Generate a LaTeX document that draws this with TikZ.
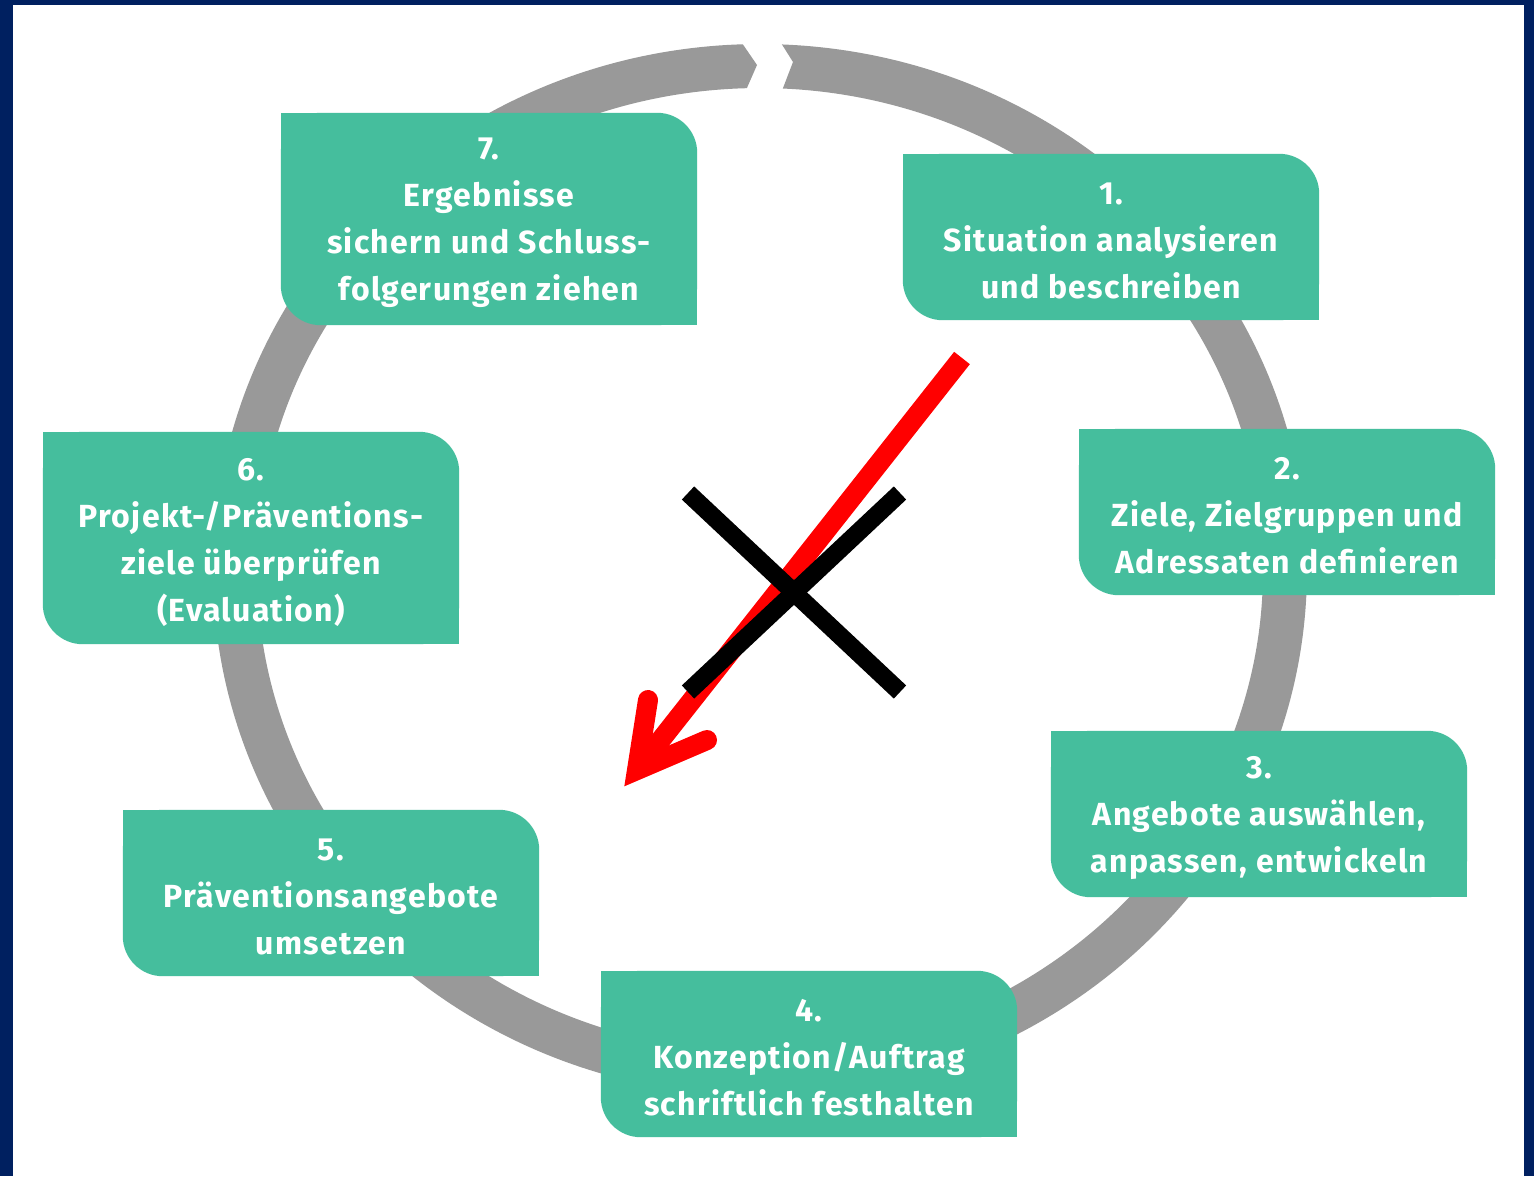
\documentclass[tikz,border=0pt]{standalone}
\usepackage{fontspec}
\setsansfont{Fira Sans}[LetterSpace=4]
\usepackage{tikz}
\usetikzlibrary{backgrounds}
\usetikzlibrary{positioning}
\definecolor{stepgreen}{RGB}{69,190,157}
\definecolor{ringgray}{RGB}{153,153,153}
\definecolor{framenavy}{RGB}{0,32,96}
\definecolor{arrowred}{RGB}{255,0,0}
\tikzset{
    steptext/.style={minimum width=416, minimum height=166, inner sep=0, text=white, align=center,
        font=\sffamily\bfseries\fontsize{32}{47}\selectfont},
    bigline/.style={line width=18},
}

\begin{document}
\begin{tikzpicture}[x=1pt,y=-1pt]
    \useasboundingbox (0,0) rectangle (1534,1176);

    % text sits 4 below the box centre
    \node[steptext, minimum height=212] (s7) at (489,223) {7.\\Ergebnisse\\sichern und Schluss-\\folgerungen ziehen};
    \node[steptext] (s1) at (1111,241) {1.\\Situation analysieren\\und beschreiben};
    \node[steptext] (s2) at (1287,516) {2.\\Ziele, Zielgruppen und\\Adressaten definieren};
    \node[steptext, minimum height=212] (s6) at (251,542) {6.\\Projekt-/Präventions-\\ziele überprüfen\\(Evaluation)};
    \node[steptext] (s3) at (1259,818) {3.\\Angebote auswählen,\\anpassen, entwickeln};
    \node[steptext] (s5) at (331,897) {5.\\Präventionsangebote\\umsetzen};
    \node[steptext] (s4) at (809,1058) {4.\\Konzeption/Auftrag\\schriftlich festhalten};

    \begin{scope}[on background layer]
        \fill[framenavy] (0,0) rectangle (1534,1176);
        \fill[white] (13,5) rectangle (1524,1176);
        % ring, open at the top
        \begin{scope}[shift={(760,570)}]
            \fill[ringgray] (-87.7:547 and 526) arc[start angle=-87.7, end angle=268.2, x radius=547, y radius=526]
                -- (-3,-505) -- (268.5:503 and 482) arc[start angle=268.5, end angle=-87.4, x radius=503, y radius=482]
                -- (33,-508) -- cycle;
        \end{scope}
        % boxes: round top right and bottom left only
        \foreach \n in {s1,s2,s3,s4,s5,s6,s7} {
            \fill[stepgreen, rounded corners=40] ([yshift=4]\n.north west) rectangle ([yshift=4]\n.south east);
            \fill[stepgreen] ([yshift=4]\n.north west) rectangle ++(40,40);
            \fill[stepgreen] ([yshift=4]\n.south east) rectangle ++(-40,-40);
        }
    \end{scope}

    \coordinate (r0) at (962,358);
    \coordinate (r1) at (637,770);
    \coordinate (rb1) at (648,700);
    \coordinate (rb2) at (707,740);
    \draw[arrowred, line width=20] (r0) -- (r1);
    \draw[arrowred, line width=20, line cap=round, miter limit=10] (rb1) -- (r1) -- (rb2);

    \coordinate (x1) at (688,493);
    \coordinate (x2) at (900,692);
    \coordinate (x3) at (688,692);
    \coordinate (x4) at (900,493);
    \draw[bigline] (x1) -- (x2);
    \draw[bigline] (x3) -- (x4);
\end{tikzpicture}
\end{document}
